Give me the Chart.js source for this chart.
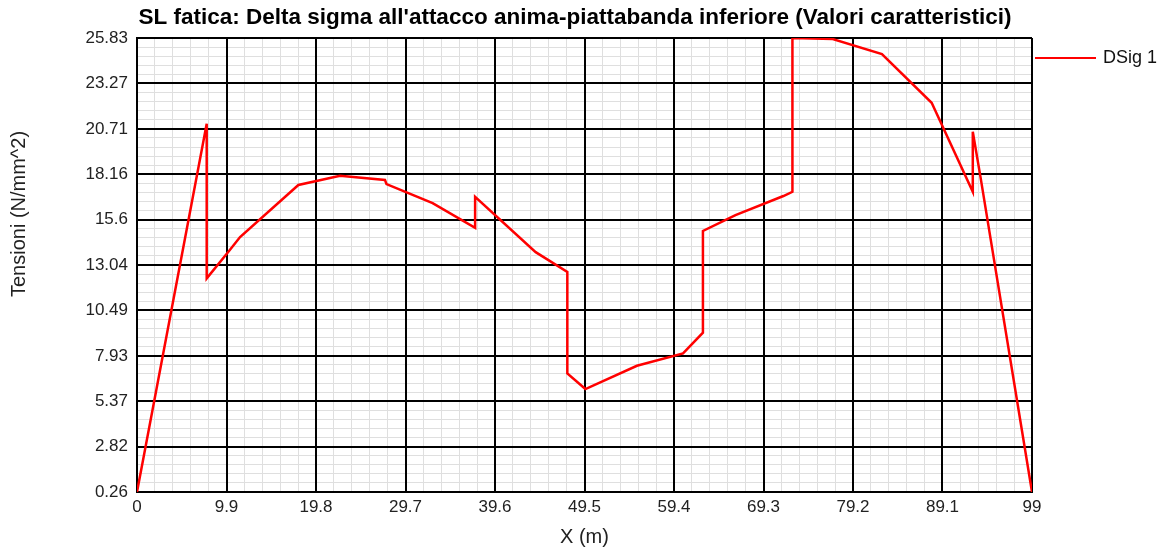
<!DOCTYPE html>
<html>
<head>
<meta charset="utf-8">
<script src="https://cdn.jsdelivr.net/npm/chart.js@4"></script>
<style>
  html, body { margin: 0; padding: 0; background: #fff; }
  #wrap { width: 1166px; height: 552px; }
</style>
</head>
<body>
<div id="wrap"><canvas id="c" width="1166" height="552"></canvas></div>
<script>
// Section positions along the beam (m) and stress range values (N/mm^2)
const xPositions = [0, 7.71, 7.71, 10.2, 11.4, 17.85, 22.46, 27.43, 27.6, 32.7, 37.4, 37.4, 44.1, 47.6, 47.6, 49.6, 55.3, 60.4, 62.6, 62.6, 66.2, 71.5, 72.5, 72.5, 76.96, 82.4, 87.9, 92.45, 92.45, 93.3, 99];
const dSig1 = [0.26, 21.0, 12.29, 13.85, 14.62, 17.55, 18.07, 17.83, 17.6, 16.53, 15.14, 16.89, 13.77, 12.66, 6.94, 6.06, 7.37, 8.07, 9.23, 14.96, 15.86, 16.93, 17.17, 25.83, 25.77, 24.92, 22.18, 17.17, 20.55, 18.01, 0.26];

const xTickLabels = ['0', '9.9', '19.8', '29.7', '39.6', '49.5', '59.4', '69.3', '79.2', '89.1', '99'];
const yTickLabels = ['0.26', '2.82', '5.37', '7.93', '10.49', '13.04', '15.6', '18.16', '20.71', '23.27', '25.83'];

const chartTitle = "SL fatica: Delta sigma all'attacco anima-piattabanda inferiore (Valori caratteristici)";
const yAxisTitle = 'Tensioni (N/mm^2)';
const xAxisTitle = 'X (m)';

const SUBDIV = 5;
const FONT = '"Liberation Sans", Arial, sans-serif';

// Major tick values plus evenly spaced minor ticks between them
function gridValues(labels) {
  const major = labels.map(parseFloat);
  const out = [];
  for (let i = 0; i < major.length - 1; i++) {
    for (let k = 0; k < SUBDIV; k++) {
      out.push(major[i] + (major[i + 1] - major[i]) * k / SUBDIV);
    }
  }
  out.push(major[major.length - 1]);
  return out;
}
const xMajor = xTickLabels.map(parseFloat);
const yMajor = yTickLabels.map(parseFloat);

const points = xPositions.map((x, i) => ({ x: x, y: dSig1[i] }));

// Heading, vertical axis caption and the series key at the right
const titlePlugin = {
  id: 'headerAndKey',
  afterDraw(chart) {
    const ctx = chart.ctx;
    ctx.save();
    ctx.fillStyle = '#000';
    ctx.font = 'bold 22.5px ' + FONT;
    ctx.textAlign = 'center';
    ctx.textBaseline = 'middle';
    ctx.fillText(chartTitle, 575, 18);

    ctx.save();
    ctx.fillStyle = '#222';
    ctx.font = '20px ' + FONT;
    ctx.translate(19, 214);
    ctx.rotate(-Math.PI / 2);
    ctx.fillText(yAxisTitle, 0, 0);
    ctx.restore();

    const ds = chart.data.datasets[0];
    const ly = 58;
    ctx.strokeStyle = ds.borderColor;
    ctx.lineWidth = 2;
    ctx.beginPath();
    ctx.moveTo(1035, ly);
    ctx.lineTo(1096, ly);
    ctx.stroke();
    ctx.fillStyle = '#111';
    ctx.font = '18px ' + FONT;
    ctx.textAlign = 'left';
    ctx.fillText(ds.label, 1103, ly);
    ctx.restore();
  }
};

const minorGrid = { color: '#dfdfdf', lineWidth: 1, drawTicks: false, z: -2 };

new Chart(document.getElementById('c'), {
  type: 'line',
  data: {
    datasets: [{
      label: 'DSig 1',
      data: points,
      borderColor: '#ff0000',
      borderWidth: 2.5,
      pointRadius: 0,
      tension: 0,
      fill: false
    }]
  },
  options: {
    responsive: false,
    animation: false,
    devicePixelRatio: 1,
    layout: { padding: { top: 38, right: 134, left: 0, bottom: 0 } },
    plugins: { legend: { display: false }, title: { display: false }, tooltip: { enabled: false } },
    scales: {
      x: {
        type: 'linear',
        position: 'bottom',
        min: xMajor[0],
        max: xMajor[xMajor.length - 1],
        afterBuildTicks: s => { s.ticks = xMajor.map(v => ({ value: v })); },
        afterFit: s => { s.height = 60; },
        ticks: {
          autoSkip: false,
          maxRotation: 0,
          padding: 5,
          color: '#222',
          font: { family: FONT, size: 17 },
          callback: (v, i) => xTickLabels[i]
        },
        grid: { color: '#000', lineWidth: 2, drawTicks: false, z: -1 },
        border: { color: '#000', width: 2 },
        title: {
          display: true,
          text: xAxisTitle,
          color: '#222',
          font: { family: FONT, size: 20 },
          padding: { top: 0, bottom: 3 }
        }
      },
      xMinor: {
        type: 'linear',
        axis: 'x',
        position: 'bottom',
        min: xMajor[0],
        max: xMajor[xMajor.length - 1],
        afterBuildTicks: s => { s.ticks = gridValues(xTickLabels).map(v => ({ value: v })); },
        afterFit: s => { s.height = 0; },
        ticks: { display: false },
        grid: minorGrid,
        border: { display: false }
      },
      y: {
        type: 'linear',
        position: 'left',
        min: yMajor[0],
        max: yMajor[yMajor.length - 1],
        afterBuildTicks: s => { s.ticks = yMajor.map(v => ({ value: v })); },
        afterFit: s => { s.width = 137; },
        ticks: {
          autoSkip: false,
          padding: 9,
          color: '#222',
          font: { family: FONT, size: 17 },
          callback: (v, i) => yTickLabels[i]
        },
        grid: { color: '#000', lineWidth: 2, drawTicks: false, z: -1 },
        border: { color: '#000', width: 2 }
      },
      yMinor: {
        type: 'linear',
        axis: 'y',
        position: 'left',
        min: yMajor[0],
        max: yMajor[yMajor.length - 1],
        afterBuildTicks: s => { s.ticks = gridValues(yTickLabels).map(v => ({ value: v })); },
        afterFit: s => { s.width = 0; },
        ticks: { display: false },
        grid: minorGrid,
        border: { display: false }
      }
    }
  },
  plugins: [titlePlugin]
});
</script>
</body>
</html>
